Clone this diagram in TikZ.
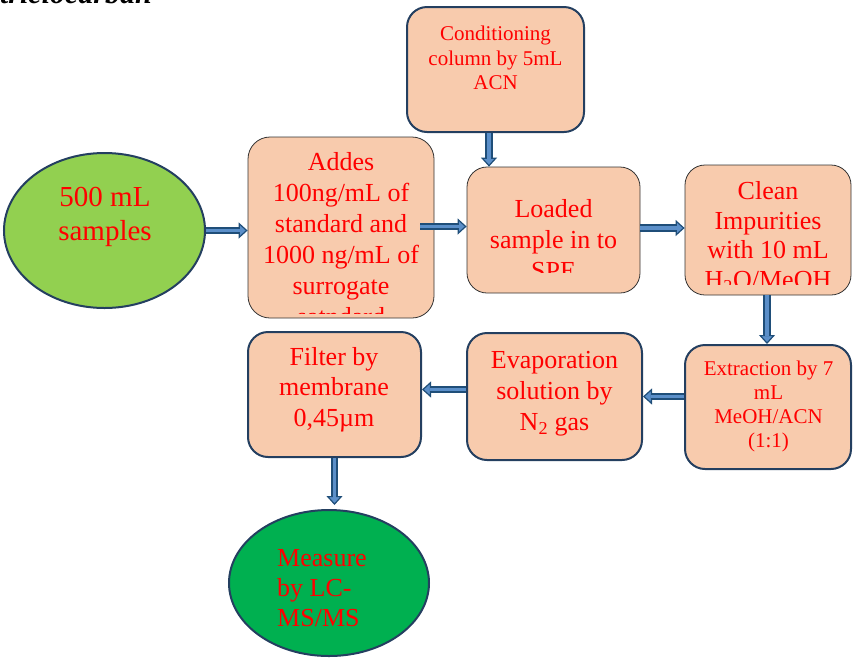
\documentclass[tikz,border=0pt]{standalone}
\usepackage{fontspec}
\setmainfont{Liberation Serif}
\usetikzlibrary{arrows.meta,shapes.geometric}
\definecolor{boxfill}{HTML}{F8CBAD}
\definecolor{navy}{HTML}{243F60}
\definecolor{lgreen}{HTML}{92D050}
\definecolor{dgreen}{HTML}{00B050}
\definecolor{txtred}{HTML}{FF0000}
\definecolor{arrowdark}{HTML}{1F4E79}
\definecolor{arrowlight}{HTML}{5B8FC9}
\begin{document}
\begin{tikzpicture}[x=1pt,y=-1pt,
  thinbox/.style={draw=black!80, line width=0.8pt, fill=boxfill, rounded corners=22pt, inner sep=0pt},
  thickbox/.style={draw=navy, line width=2pt, fill=boxfill, rounded corners=20pt, inner sep=0pt},
  oval/.style={ellipse, draw=navy, line width=2pt, inner sep=0pt},
  bigtxt/.style={text=txtred, align=center, font=\fontsize{26}{31}\selectfont, inner sep=0pt},
  smalltxt/.style={text=txtred, align=center, font=\fontsize{21}{24.5}\selectfont, inner sep=0pt},
  flow/.style={line width=7.5pt, draw=arrowdark,
    -{Triangle[length=9pt,width=16pt,fill=arrowlight,line width=1.2pt]},
    postaction={draw=arrowlight, line width=3.2pt, -, shorten >=8pt}}]
\useasboundingbox (0,0) rectangle (853,657);

% partially visible title
\node[anchor=base east, inner sep=0pt, font=\fontsize{30}{30}\selectfont\bfseries\itshape] (title) at (152,3) {triclocarban};

% shapes
\node[oval, fill=lgreen, minimum width=201pt, minimum height=155pt] (e1) at (104.5,230.5) {};
\node[thinbox, minimum width=186pt, minimum height=181pt] (addes) at (341,227.5) {};
\node[thickbox, minimum width=177pt, minimum height=125pt] (cond) at (495.5,69.5) {};
\node[thinbox, rounded corners=20pt, minimum width=173pt, minimum height=126pt] (loaded) at (553.5,230) {};
\node[thinbox, rounded corners=20pt, minimum width=166pt, minimum height=130pt] (clean) at (768,230) {};
\node[thickbox, minimum width=166pt, minimum height=124pt] (extr) at (768,407) {};
\node[thickbox, minimum width=175pt, minimum height=127pt] (evap) at (554.5,396.5) {};
\node[thickbox, minimum width=173pt, minimum height=125pt] (filter) at (334.5,394.5) {};
\node[oval, fill=dgreen, minimum width=200pt, minimum height=146pt] (e2) at (329,583) {};

% texts
\node[text=txtred, align=center, font=\fontsize{29}{34}\selectfont, inner sep=0pt] (t1) at (105,217) {500 mL\\samples};
\begin{scope}
  \clip (248,137) rectangle (434,313);
  \node[bigtxt] (t2) at (341,239.5) {Addes\\100ng/mL of\\standard and\\1000 ng/mL of\\surrogate\\satndard};
\end{scope}
\node[smalltxt] (t3) at (495.5,58) {Conditioning\\column by 5mL\\ACN};
\begin{scope}
  \clip (467,167) rectangle (640,272);
  \node[bigtxt] (t4) at (553.5,240) {Loaded\\sample in to\\SPE};
\end{scope}
\begin{scope}
  \clip (685,165) rectangle (853,284);
  \node[bigtxt, font=\fontsize{26}{29.5}\selectfont] (t5) at (768,237) {Clean\\Impurities\\with 10 mL\\H\textsubscript{2}O/MeOH};
\end{scope}
\node[smalltxt, font=\fontsize{21}{24}\selectfont] (t6) at (768.5,406.5) {Extraction by 7\\mL\\MeOH/ACN\\(1:1)};
\node[bigtxt] (t7) at (554.5,393.5) {Evaporation\\solution by\\N\textsubscript{2} gas};
\node[bigtxt, font=\fontsize{26}{30.5}\selectfont] (t8) at (334,389.5) {Filter by\\membrane\\0,45µm};
\node[bigtxt, align=left, font=\fontsize{26}{30}\selectfont, anchor=west] (t9) at (277,588) {Measure\\by LC-\\MS/MS};

% connectors
\draw[flow] (e1.east) -- (e1.east -| addes.west);
\draw[flow] ([xshift=-14pt,yshift=1pt]addes.east) -- ([yshift=1pt]addes.east -| loaded.west);
\draw[flow] ([yshift=2pt]loaded.east) -- ([yshift=2pt]loaded.east -| clean.west);
\draw[flow] ([xshift=-6.5pt]cond.south) -- ([xshift=-6.5pt]cond.south |- loaded.north);
\draw[flow] ([xshift=-1pt]clean.south) -- ([xshift=-1pt]clean.south |- extr.north);
\draw[flow] (evap.east -| extr.west) -- (evap.east);
\draw[flow] ([yshift=7pt]evap.west) -- ([yshift=7pt]evap.west -| filter.east);
\draw[flow, shorten >=4pt] (filter.south) -- (filter.south |- e2.north);
\end{tikzpicture}
\end{document}
